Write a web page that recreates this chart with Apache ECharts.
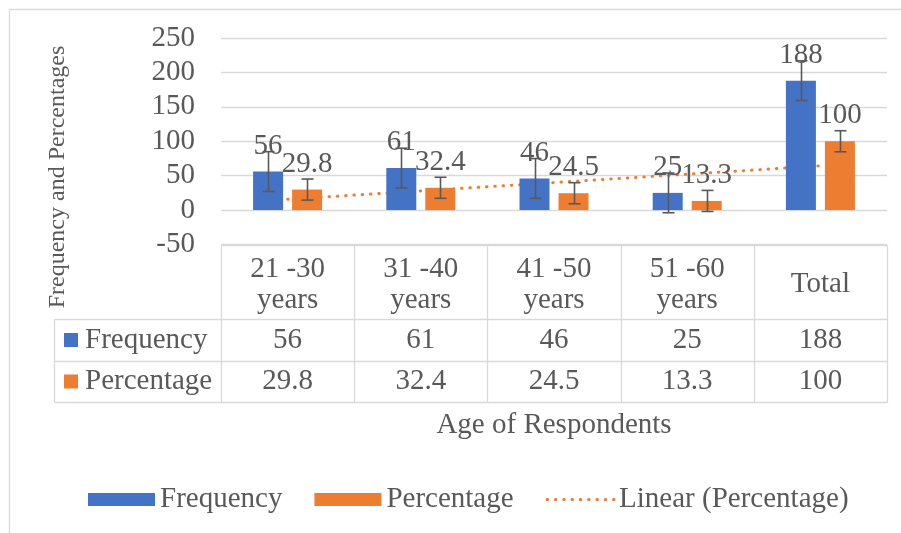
<!DOCTYPE html>
<html><head><meta charset="utf-8">
<script src="https://cdn.jsdelivr.net/npm/echarts@6/dist/echarts.min.js"></script>
<style>html,body{margin:0;padding:0;background:#fff}#c{width:901px;height:533px}</style>
</head><body><div id="c"></div>
<script>
// ---- data ----
const categories = ['21 -30\nyears', '31 -40\nyears', '41 -50\nyears', '51 -60\nyears', 'Total'];
const seriesNames = ['Frequency', 'Percentage', 'Linear (Percentage)'];
const frequency = [56, 61, 46, 25, 188];
const percentage = [29.8, 32.4, 24.5, 13.3, 100];
const frequencyError = [28.9, 28.9, 28.9, 28.9, 28.9];
const percentageError = [15.3, 15.3, 15.3, 15.3, 15.3];
const trendPercentage = [15.7, null, null, null, 64.3];
const yMin = -50, yMax = 250, yStep = 50;
const xTitle = 'Age of Respondents';
const yTitle = 'Frequency and Percentages';

// ---- style ----
const FONT = "'Liberation Serif', 'Times New Roman', serif";
const TXT = '#595959';
const LINE = '#d9d9d9';
const BLUE = '#4472C4', ORANGE = '#ED7D31';
const BAR_W = 30, BAR_GAP_PX = 9;
const FS = 29;

const chart = echarts.init(document.getElementById('c'), null, {renderer: 'canvas'});

function errorSeries(name, values, errs, side) {
  return {
    type: 'custom', name: name + ' err', coordinateSystem: 'cartesian2d', z: 5,
    silent: true, legendHoverLink: false,
    data: values.map((v, i) => [i, v, errs[i]]),
    encode: {x: 0, y: 1},
    renderItem: function (params, api) {
      const off = side * (BAR_W + BAR_GAP_PX) / 2;
      const c = api.coord([api.value(0), api.value(1)]);
      const x = Math.round(c[0] + off) + 0.5;
      const yT = api.coord([api.value(0), api.value(1) + api.value(2)])[1];
      const yB = api.coord([api.value(0), api.value(1) - api.value(2)])[1];
      const st = {stroke: TXT, lineWidth: 1.6};
      return {type: 'group', children: [
        {type: 'line', shape: {x1: x, y1: yT, x2: x, y2: yB}, style: st},
        {type: 'line', shape: {x1: x - 6, y1: yT, x2: x + 6, y2: yT}, style: st},
        {type: 'line', shape: {x1: x - 6, y1: yB, x2: x + 6, y2: yB}, style: st}
      ]};
    }
  };
}

const labelStyle = {show: true, position: 'top', distance: 11, fontSize: FS, color: TXT, fontFamily: FONT};
const trendLine = {color: ORANGE, width: 3, type: [0.5, 7.8], cap: 'round'};

chart.setOption({
  animation: false,
  textStyle: {fontFamily: FONT},
  grid: {left: 221, right: 14, top: 38, bottom: 288.5, containLabel: false},
  xAxis: {
    type: 'category', data: categories,
    axisLine: {show: false}, axisTick: {show: false}, axisLabel: {show: false},
    splitLine: {show: false}
  },
  yAxis: {
    type: 'value', min: yMin, max: yMax, interval: yStep,
    axisLine: {show: false}, axisTick: {show: false},
    axisLabel: {fontSize: FS, color: TXT, fontFamily: FONT, margin: 26},
    splitLine: {lineStyle: {color: LINE, width: 1.3}}
  },
  legend: {
    left: 83, top: 480, itemWidth: 67, itemHeight: 13, itemGap: 32,
    textStyle: {fontSize: FS, color: TXT, fontFamily: FONT},
    data: [
      {name: seriesNames[0], icon: 'rect'},
      {name: seriesNames[1], icon: 'rect'},
      {name: seriesNames[2], itemStyle: {color: 'rgba(0,0,0,0)', borderWidth: 0, opacity: 0}, lineStyle: trendLine}
    ]
  },
  series: [
    {type: 'bar', name: seriesNames[0], data: frequency, barWidth: BAR_W, barGap: (BAR_GAP_PX / BAR_W * 100) + '%',
      itemStyle: {color: BLUE}, label: labelStyle, z: 3},
    {type: 'bar', name: seriesNames[1], data: percentage, barWidth: BAR_W,
      itemStyle: {color: ORANGE}, label: labelStyle, z: 3},
    {type: 'line', name: seriesNames[2], data: trendPercentage, connectNulls: true, symbol: 'none', z: 1,
      lineStyle: trendLine, itemStyle: {color: ORANGE}},
    errorSeries('Frequency', frequency, frequencyError, -1),
    errorSeries('Percentage', percentage, percentageError, 1)
  ]
});

// ---- data table + titles, positioned from the axis scales ----
const c0 = chart.convertToPixel({xAxisIndex: 0}, 0);
const c1 = chart.convertToPixel({xAxisIndex: 0}, 1);
const band = c1 - c0;
const left = c0 - band / 2;
const right = left + band * categories.length;
const tableTop = chart.convertToPixel({yAxisIndex: 0}, yMin);
const headBottom = 319, row1Bottom = 361, row2Bottom = 402, tableLeft = 54;
const px = v => Math.round(v) + 0.5;
const g = [];
const ls = {stroke: LINE, lineWidth: 1.3};
function hline(x1, x2, y) { g.push({type: 'line', silent: true, shape: {x1: px(x1), y1: px(y), x2: px(x2), y2: px(y)}, style: ls}); }
function vline(x, y1, y2) { g.push({type: 'line', silent: true, shape: {x1: px(x), y1: px(y1), x2: px(x), y2: px(y2)}, style: ls}); }
function txt(s, x, y, extra) {
  g.push({type: 'text', silent: true, x: x, y: y, style: Object.assign({text: s, fill: TXT, font: FS + 'px ' + FONT,
    align: 'center', verticalAlign: 'middle', lineHeight: 31}, extra || {})});
}
// outer chart border
g.push({type: 'rect', silent: true, shape: {x: 9.5, y: 9.5, width: 1000, height: 1000}, style: {fill: 'none', stroke: LINE, lineWidth: 1.3}});
hline(left, right, tableTop);
hline(tableLeft, right, headBottom);
hline(tableLeft, right, row1Bottom);
hline(tableLeft, right, row2Bottom);
vline(tableLeft, headBottom, row2Bottom);
for (let i = 0; i <= categories.length; i++) vline(left + band * i, tableTop, row2Bottom);
const hy = (tableTop + headBottom) / 2 + 3, r1 = (headBottom + row1Bottom) / 2, r2 = (row1Bottom + row2Bottom) / 2;
categories.forEach((cat, i) => {
  const cx = chart.convertToPixel({xAxisIndex: 0}, i);
  txt(cat, cx, hy);
  txt(String(frequency[i]), cx, r1);
  txt(String(percentage[i]), cx, r2);
});
g.push({type: 'rect', silent: true, shape: {x: 64, y: r1 - 7, width: 14, height: 14}, style: {fill: BLUE}});
g.push({type: 'rect', silent: true, shape: {x: 64, y: r2 - 7, width: 14, height: 14}, style: {fill: ORANGE}});
txt(seriesNames[0], 85, r1, {align: 'left'});
txt(seriesNames[1], 85, r2, {align: 'left'});
txt(xTitle, (left + right) / 2, 425);
g.push({type: 'text', silent: true, x: 58, y: 177, rotation: Math.PI / 2,
  style: {text: yTitle, fill: TXT, font: '24px ' + FONT, align: 'center', verticalAlign: 'middle'}});
chart.setOption({graphic: g});
</script>
</body></html>
